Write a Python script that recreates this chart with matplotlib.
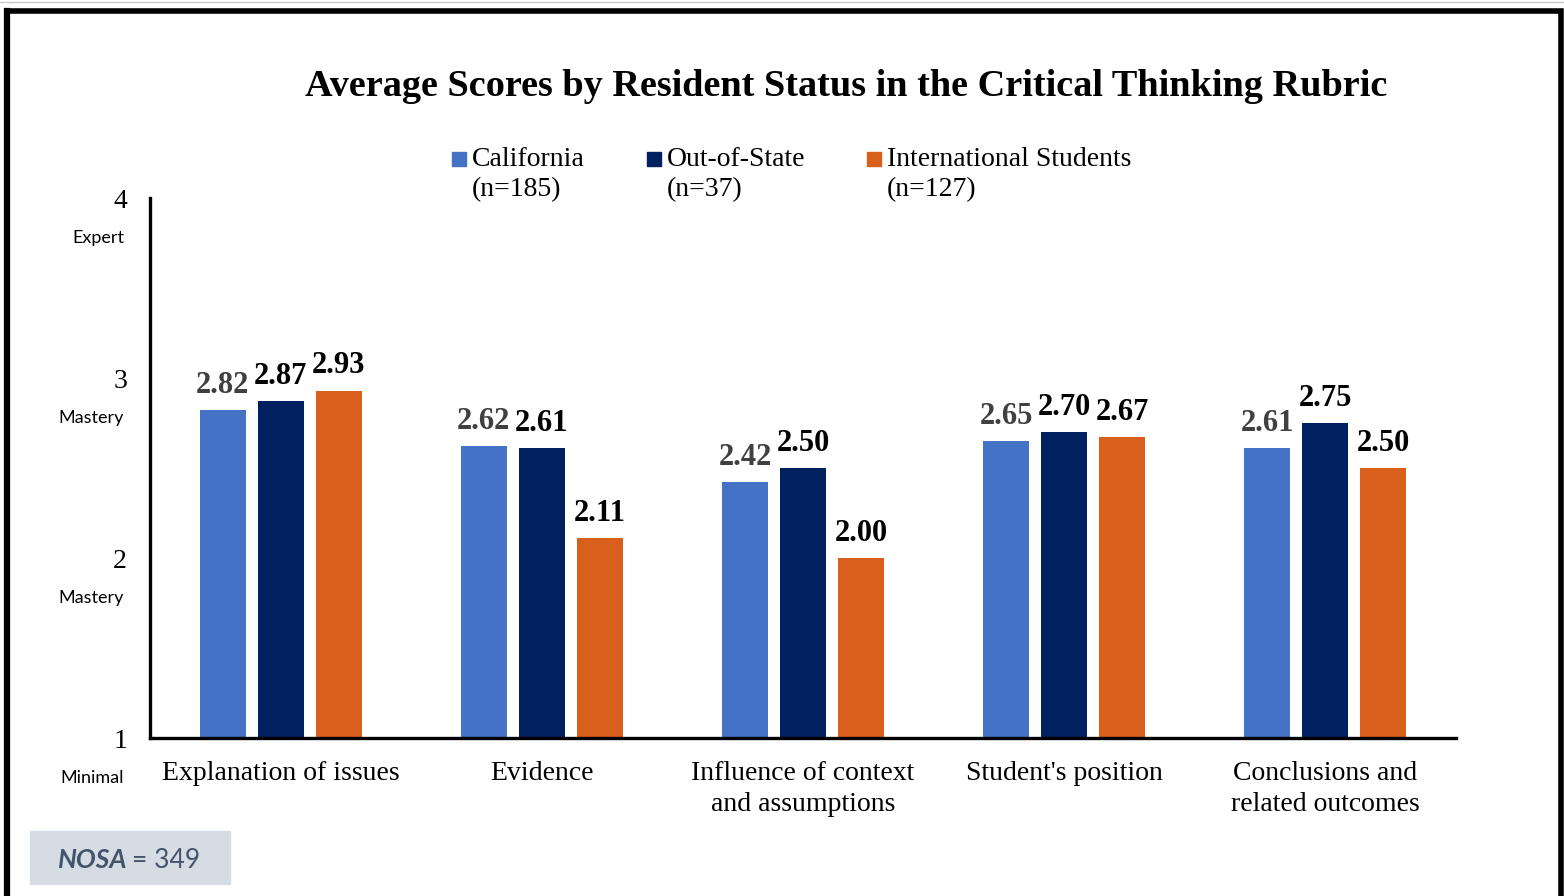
import matplotlib.pyplot as plt
from matplotlib.patches import Rectangle
from matplotlib.lines import Line2D
import numpy as np

# data
categories = ["Explanation of issues", "Evidence", "Influence of context\nand assumptions",
              "Student's position", "Conclusions and\nrelated outcomes"]
series = ["California", "Out-of-State", "International Students"]
series_n = ["(n=185)", "(n=37)", "(n=127)"]
california = [2.82, 2.62, 2.42, 2.65, 2.61]
out_of_state = [2.87, 2.61, 2.50, 2.70, 2.75]
international = [2.93, 2.11, 2.00, 2.67, 2.50]
y_ticks = [1, 2, 3, 4]
y_levels = ["Minimal", "Mastery", "Mastery", "Expert"]
nosa = 349

colors = ["#4472C4", "#002060", "#D9601C"]
label_colors = ["#404040", "black", "black"]
serif = ["Liberation Serif", "DejaVu Serif"]
sans = ["Lato", "DejaVu Sans"]

W, H = 1564, 896
fig = plt.figure(figsize=(W / 100, H / 100), dpi=100)


def fx(px):
    return px / W


def fy(py):
    return 1 - py / H


ax = fig.add_axes([fx(150), fy(738), fx(1456) - fx(150), fy(198) - fy(738)])

x = np.arange(len(categories))
offset = 0.222
width = 0.176
for i, vals in enumerate([california, out_of_state, international]):
    bars = ax.bar(x + (i - 1) * offset, vals, width, bottom=0, color=colors[i], zorder=2)
    for b, v in zip(bars, vals):
        ax.annotate(f"{v:.2f}", (b.get_x() + b.get_width() / 2, v), xytext=(0, 7.5),
                    textcoords="offset points", ha="center", va="bottom",
                    fontsize=22, fontweight="bold", color=label_colors[i], family=serif)

ax.set_xlim(-0.5, len(categories) - 0.5)
ax.set_ylim(1, 4)
for s in ["top", "right"]:
    ax.spines[s].set_visible(False)
for s in ["left", "bottom"]:
    ax.spines[s].set_linewidth(2.4)
    ax.spines[s].set_color("black")
ax.tick_params(length=0)
ax.set_xticks(x)
ax.set_xticklabels(categories, fontsize=20, family=serif, linespacing=1.3)
ax.tick_params(axis="x", pad=16.5)
ax.set_yticks(y_ticks)
ax.set_yticklabels([str(t) for t in y_ticks], fontsize=20, family=serif)
ax.tick_params(axis="y", pad=16.5)
for t, lvl in zip(y_ticks, y_levels):
    ax.text(-0.02, t - 0.22, lvl, transform=ax.get_yaxis_transform(), ha="right",
            va="center", fontsize=13, family=sans)

# title
fig.text(fx(846), fy(86), "Average Scores by Resident Status in the Critical Thinking Rubric",
         ha="center", va="center", fontsize=27.5, fontweight="bold", family=serif)

# legend
leg_x = [452, 647, 867]
for i, name in enumerate(series):
    fig.add_artist(Rectangle((fx(leg_x[i]), fy(166)), fx(14), fy(152) - fy(166),
                             color=colors[i], transform=fig.transFigure))
    fig.text(fx(leg_x[i] + 20), fy(159), name, ha="left", va="center", fontsize=20, family=serif)
    fig.text(fx(leg_x[i] + 20), fy(190), series_n[i], ha="left", va="center", fontsize=20, family=serif)

# NOSA box
fig.add_artist(Rectangle((fx(30), fy(884)), fx(200), fy(831) - fy(884),
                         color="#D6DCE4", transform=fig.transFigure))
fig.text(fx(58), fy(860), "NOSA", ha="left", va="center", fontsize=19,
         fontweight="bold", style="italic", color="#44546A", family=sans)
fig.text(fx(132), fy(860), f"= {nosa}", ha="left", va="center", fontsize=19,
         color="#44546A", family=sans)

# frame
fig.add_artist(Line2D([fx(0), fx(W)], [fy(2), fy(2)], color="#C8C8C8", lw=1, transform=fig.transFigure))
fig.add_artist(Line2D([fx(7), fx(1561), fx(1561)], [fy(11), fy(11), fy(H + 5)],
                      color="black", lw=4, transform=fig.transFigure, solid_joinstyle="miter"))
fig.add_artist(Line2D([fx(7), fx(7)], [fy(11), fy(H + 5)], color="black", lw=4.5,
                      transform=fig.transFigure))

fig.savefig("out.png", dpi=100)
